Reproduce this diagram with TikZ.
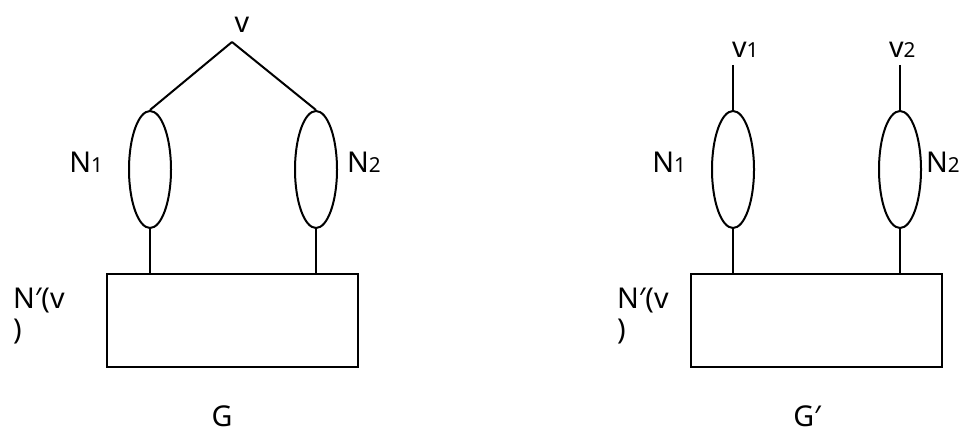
\documentclass[tikz,border=0pt]{standalone}
\usepackage{fontspec}
\setmainfont{Noto Sans}
\usetikzlibrary{shapes.geometric, positioning}
\newcommand{\ix}[1]{{\fontsize{15.5}{15.5}\selectfont #1}}

\begin{document}
\begin{tikzpicture}[x=0.75pt, y=-0.75pt, line width=1.5pt,
    blob/.style={ellipse, draw, inner sep=0pt, minimum width=31.5pt, minimum height=87.75pt},
    frame/.style={rectangle, draw, inner sep=0pt, minimum width=188.25pt, minimum height=69.75pt},
    lbl/.style={inner sep=0pt, font=\fontsize{21.5}{19}\selectfont},
    wrapped/.style={lbl, anchor=north west, align=left, font=\fontsize{21.5}{23.5}\selectfont}]

    \useasboundingbox (0,0) rectangle (959,434);

    % graph G
    \coordinate (v) at (232,42);
    \node (n1) at (150,169.5) [blob] {};
    \node (n2) at (316,169.5) [blob] {};
    \node (box) at (232.5,320.5) [frame] {};

    \draw (v) -- (n1.north);
    \draw (v) -- (n2.north);
    \draw (n1.south) -- (n1.south |- box.north);
    \draw (n2.south) -- (n2.south |- box.north);

    \node (vlab) at (242,33) [lbl, anchor=base] {v};
    \node (n1lab) at (104,173) [lbl, anchor=base east] {N\ix{1}};
    \node (n2lab) at (346,173) [lbl, anchor=base west] {N\ix{2}};
    \node (boxlab) at (12,287) [wrapped] {N′(v\\)};
    \node (glab) at (222,426) [lbl, anchor=base] {G};

    % graph G'
    \coordinate (v1) at (733,65);
    \coordinate (v2) at (900,65);
    \node (m1) at (733,169.5) [blob] {};
    \node (m2) at (900,169.5) [blob] {};
    \node (boxb) at (816.5,320.5) [frame] {};

    \draw (v1) -- (m1.north);
    \draw (v2) -- (m2.north);
    \draw (m1.south) -- (m1.south |- boxb.north);
    \draw (m2.south) -- (m2.south |- boxb.north);

    \node (v1lab) at (731,58) [lbl, anchor=base west] {v\ix{1}};
    \node (v2lab) at (888,58) [lbl, anchor=base west] {v\ix{2}};
    \node (m1lab) at (687,173) [lbl, anchor=base east] {N\ix{1}};
    \node (m2lab) at (925,173) [lbl, anchor=base west] {N\ix{2}};
    \node (boxblab) at (616,287) [wrapped] {N′(v\\)};
    \node (gblab) at (807,426) [lbl, anchor=base] {G′};
\end{tikzpicture}
\end{document}
